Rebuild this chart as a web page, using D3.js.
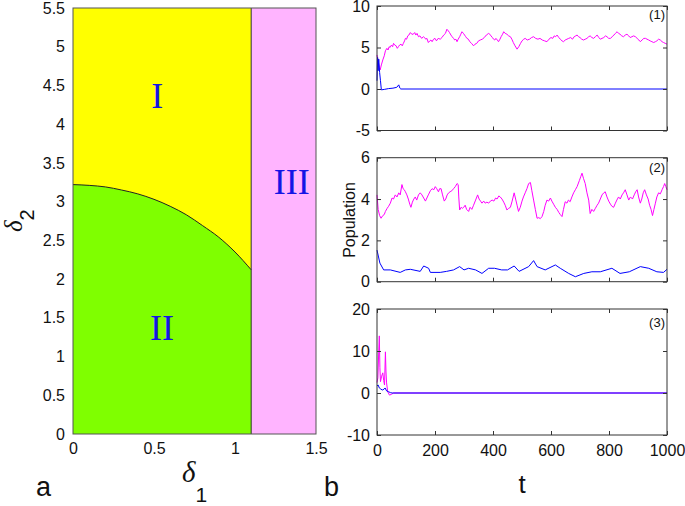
<!DOCTYPE html>
<html><head><meta charset="utf-8">
<script src="https://cdn.jsdelivr.net/npm/d3@7"></script>
<style>
html,body{margin:0;padding:0;background:#fff;}
</style></head>
<body><svg id="c" width="685" height="506"></svg>
<script>
// ---------- Data: panel a (phase diagram) ----------
const delta1Ticks = [0, 0.5, 1, 1.5];
const delta2Ticks = [0, 0.5, 1, 1.5, 2, 2.5, 3, 3.5, 4, 4.5, 5, 5.5];
const delta1Critical = 1.1;
const curveDelta1 = [0, 0.1, 0.2, 0.3, 0.4, 0.5, 0.6, 0.7, 0.8, 0.9, 1.0, 1.1];
const curveDelta2 = [3.22, 3.21, 3.19, 3.15, 3.10, 3.03, 2.94, 2.83, 2.69, 2.54, 2.35, 2.12];
const regionNames = ["I", "II", "III"];

// ---------- Data: panel b (time series) ----------
const timeTicks = [0, 200, 400, 600, 800, 1000];
const p1Ticks = [-5, 0, 5, 10];
const p2Ticks = [0, 2, 4, 6];
const p3Ticks = [-10, 0, 10, 20];
const panelNames = ["(1)", "(2)", "(3)"];

const p1MagT = [0,3,5,8,11,15,20,25,29,34,38,42,45,50,54,57,61,66,70,74,78,83,87,91,95,98,102,106,110,115,120,125,130,134,138,143,148,154,160,164,168,172,177,182,186,190,195,200,205,211,218,224,230,236,241,246,250,255,259,264,268,272,276,280,285,289,293,298,302,306,310,315,320,326,333,338,344,350,356,363,370,377,385,389,393,398,402,406,410,415,419,424,428,433,437,442,448,454,460,465,470,476,483,489,495,500,506,511,518,526,533,540,547,555,562,570,578,586,593,600,606,611,616,621,627,632,638,643,649,655,661,668,674,680,685,690,695,700,706,712,718,724,730,735,741,747,753,759,765,770,776,782,788,793,799,805,811,817,822,828,833,838,844,850,856,862,868,873,879,885,891,897,903,908,914,920,926,931,937,942,948,954,960,965,971,977,983,988,994,1000];
const p1MagV = [4.1,3.6,3.2,2.6,2.3,2.9,3.5,4.0,4.6,4.9,4.7,5.1,5.0,5.3,5.1,5.5,5.3,5.2,4.9,5.1,5.3,5.4,5.2,5.5,5.8,6.1,6.0,6.4,6.5,6.8,6.6,6.6,6.8,6.5,6.7,6.3,6.4,6.1,6.3,6.2,6.0,6.1,5.6,5.8,5.9,5.7,6.0,6.1,5.8,6.1,6.0,6.2,6.5,6.7,7.2,7.0,6.8,6.5,6.3,6.1,5.9,6.0,5.7,6.0,6.3,6.6,6.9,6.7,6.5,6.3,6.1,6.0,5.7,5.5,5.2,5.4,5.5,5.8,5.9,6.0,6.2,6.5,6.7,6.6,6.4,6.2,6.0,5.9,6.1,5.9,5.7,6.0,6.3,6.6,6.9,6.7,6.6,6.4,6.3,6.0,5.6,5.2,4.8,5.1,5.5,5.8,6.0,6.1,5.9,6.0,6.2,6.3,6.1,6.0,6.1,5.9,5.8,5.7,6.0,6.2,6.1,6.4,6.3,6.5,6.2,6.0,5.8,5.7,5.9,6.0,6.1,6.2,6.0,6.3,6.4,6.5,6.3,6.2,6.0,5.9,6.0,6.1,6.3,6.4,6.2,6.1,6.3,6.5,6.2,6.0,6.1,6.2,6.4,6.3,6.1,6.1,6.3,6.5,6.7,6.9,6.7,6.6,6.4,6.3,6.5,6.6,6.4,6.2,6.3,6.4,6.3,6.1,5.9,5.7,5.9,6.1,6.1,6.0,5.9,5.8,5.7,5.6,5.7,5.8,6.0,5.9,5.7,5.6,5.5,5.4];
const p1BluT = [0,2,4,6,9,12,15,25,40,55,68,75,79,82,1000];
const p1BluV = [1.0,3.8,2.2,3.6,2.0,1.0,-0.1,-0.05,0.05,0.1,0.2,0.5,0.1,0,0];

const p2MagT = [0,4,9,14,20,25,29,35,40,46,52,57,63,69,75,80,86,90,94,98,103,108,113,117,122,127,132,137,143,149,155,161,167,172,177,184,190,196,201,206,212,216,221,226,232,237,242,247,252,258,264,270,276,280,282,285,290,295,299,304,309,316,321,327,333,340,347,352,357,362,368,373,379,385,391,397,403,409,414,420,425,431,437,442,448,454,460,466,473,478,483,488,494,500,505,511,517,523,529,534,540,546,552,558,563,569,575,580,586,592,598,603,609,615,621,627,632,638,643,649,655,660,666,672,678,684,690,698,703,707,712,718,724,730,735,741,747,753,759,764,770,776,782,787,793,799,805,810,816,822,827,833,839,845,850,856,862,868,874,881,887,892,897,902,908,913,918,923,929,935,940,945,950,955,960,965,971,977,983,988,992,996,1000];
const p2MagV = [4.2,3.5,3.2,3.07,3.2,3.25,3.4,3.55,3.65,3.8,4.05,4.0,4.2,4.1,4.3,4.2,4.7,4.5,4.45,4.35,4.2,4.0,3.75,3.6,3.85,4.0,4.1,3.95,4.2,4.3,4.2,4.05,3.9,4.05,4.2,4.4,4.5,4.45,4.6,4.5,4.35,4.5,4.5,4.2,3.9,4.0,4.2,4.3,4.35,4.4,4.5,4.6,4.75,4.7,4.1,3.47,3.6,3.55,3.6,3.7,3.5,3.4,3.6,3.5,3.7,3.95,4.2,4.0,3.9,3.8,3.9,3.8,3.85,3.8,3.9,3.95,3.9,4.05,4.0,4.15,4.1,4.0,3.85,3.7,3.47,3.55,3.6,3.9,4.3,4.0,3.7,3.4,3.6,3.9,4.1,4.3,4.5,4.75,4.8,4.4,3.95,3.5,3.07,3.1,3.05,3.15,3.4,3.7,3.95,3.9,4.05,3.9,3.75,3.6,3.5,3.35,3.25,3.15,3.5,3.87,3.8,3.95,3.87,4.1,4.3,4.45,4.6,4.9,5.1,5.25,5.0,4.75,4.3,3.95,3.3,3.5,3.4,3.55,3.7,3.8,4.0,4.2,4.3,4.35,4.1,3.9,3.75,3.65,3.6,3.8,3.95,4.1,4.0,4.2,4.3,4.45,4.2,3.95,4.1,4.0,4.2,4.35,4.45,4.1,3.8,4.0,4.3,4.45,4.2,4.0,3.7,3.5,3.2,3.5,3.8,4.1,4.3,4.25,4.45,4.6,4.75,4.6,4.45];
const p2BluT = [0,10,23,46,80,98,115,149,161,178,184,218,240,264,285,300,316,340,362,385,405,430,450,473,490,523,540,552,580,615,632,661,684,713,741,770,810,838,870,908,937,965,988,1000];
const p2BluV = [1.53,0.9,0.57,0.57,0.45,0.57,0.6,0.5,0.76,0.65,0.45,0.45,0.5,0.57,0.73,0.57,0.65,0.57,0.4,0.65,0.65,0.57,0.57,0.76,0.5,0.73,1.02,0.73,0.57,0.81,0.65,0.4,0.24,0.4,0.48,0.48,0.65,0.4,0.48,0.73,0.65,0.48,0.45,0.6];

const p3MagT = [0,3,6,8,10,12,16,20,23,26,29,31,33,37,43,50,57,1000];
const p3MagV = [2.5,3.6,10,13.6,6,2.7,4,4.8,3,1.9,9.8,5,2.4,0.3,-0.5,-0.3,0,0];
const p3BluT = [0,4,8,12,18,24,28,33,40,46,52,1000];
const p3BluV = [1.7,1.9,1.2,1.0,0.7,0.9,1.2,0.5,0.3,0.1,0,0];

// ---------- Drawing ----------
const svg = d3.select("#c");
const font = '"Liberation Sans",Arial,sans-serif';
const serif = '"Liberation Serif","Times New Roman",serif';
const fmt = d => String(d);

// Panel a
const ax = d3.scaleLinear().domain([0, 1.5]).range([73, 316]);
const ay = d3.scaleLinear().domain([0, 5.5]).range([434, 8]);
const ga = svg.append("g");
ga.append("rect").attr("x", ax(0)).attr("y", ay(5.5)).attr("width", ax(delta1Critical) - ax(0)).attr("height", ay(0) - ay(5.5)).attr("fill", "#ffff00");
ga.append("rect").attr("x", ax(delta1Critical)).attr("y", ay(5.5)).attr("width", ax(1.5) - ax(delta1Critical)).attr("height", ay(0) - ay(5.5)).attr("fill", "#ffb4ff");
const curve = curveDelta1.map((d, i) => [d, curveDelta2[i]]);
ga.append("path").datum(curve)
  .attr("d", d3.area().x(d => ax(d[0])).y0(ay(0)).y1(d => ay(d[1])).curve(d3.curveMonotoneX))
  .attr("fill", "#7fff00");
ga.append("path").datum(curve)
  .attr("d", d3.line().x(d => ax(d[0])).y(d => ay(d[1])).curve(d3.curveMonotoneX))
  .attr("fill", "none").attr("stroke", "#222").attr("stroke-width", 1);
ga.append("line").attr("x1", ax(delta1Critical)).attr("x2", ax(delta1Critical)).attr("y1", ay(0)).attr("y2", ay(5.5)).attr("stroke", "#333").attr("stroke-width", 1);
ga.append("rect").attr("x", ax(0)).attr("y", ay(5.5)).attr("width", ax(1.5) - ax(0)).attr("height", ay(0) - ay(5.5)).attr("fill", "none").attr("stroke", "#555").attr("stroke-width", 1);

const axA = ga.append("g").attr("transform", `translate(0,${ay(0)})`)
  .call(d3.axisBottom(ax).tickValues(delta1Ticks).tickSize(0).tickPadding(9).tickFormat(fmt));
const ayA = ga.append("g").attr("transform", `translate(${ax(0)},0)`)
  .call(d3.axisLeft(ay).tickValues(delta2Ticks).tickSize(0).tickPadding(8).tickFormat(fmt));
[axA, ayA].forEach(g => { g.select(".domain").remove(); g.attr("font-size", null).attr("font-family", null); g.selectAll("text").attr("font-size", 16).attr("font-family", font).attr("fill", "#111"); });

// region labels
const regPos = [[0.52, 4.21], [0.55, 1.21], [1.35, 3.1]];
regionNames.forEach((n, i) => {
  ga.append("text").attr("x", ax(regPos[i][0])).attr("y", ay(regPos[i][1])).attr("text-anchor", "middle")
    .attr("font-family", serif).attr("font-size", 36).attr("fill", "#1414e6").text(n);
});

// delta labels
const d1 = svg.append("text").attr("x", 182).attr("y", 482).attr("font-size", 29).attr("font-family", serif).attr("font-style", "italic").attr("fill", "#111");
d1.append("tspan").text("δ");
d1.append("tspan").attr("font-family", font).attr("font-style", "normal").attr("font-size", 21).attr("dy", 20).text("1");
const d2 = svg.append("text").attr("transform", "translate(22,232) rotate(-90)").attr("font-size", 25).attr("font-family", serif).attr("font-style", "italic").attr("fill", "#111");
d2.append("tspan").text("δ");
d2.append("tspan").attr("font-family", font).attr("font-style", "normal").attr("font-size", 20).attr("dy", 12).text("2");

svg.append("text").attr("x", 36).attr("y", 496).attr("font-size", 27).attr("font-family", font).attr("fill", "#111").text("a");
svg.append("text").attr("x", 324).attr("y", 496).attr("font-size", 27).attr("font-family", font).attr("fill", "#111").text("b");

// Panel b
const tx = d3.scaleLinear().domain([0, 1000]).range([377, 667]);
const panels = [
  {dom: [-5, 10], rng: [130.5, 6], ticks: p1Ticks, mag: [p1MagT, p1MagV], blu: [p1BluT, p1BluV], lab: panelNames[0], labY: 19},
  {dom: [0, 6], rng: [281.7, 157.7], ticks: p2Ticks, mag: [p2MagT, p2MagV], blu: [p2BluT, p2BluV], lab: panelNames[1], labY: 172},
  {dom: [-10, 20], rng: [435, 309], ticks: p3Ticks, mag: [p3MagT, p3MagV], blu: [p3BluT, p3BluV], lab: panelNames[2], labY: 327}
];
panels.forEach((p, k) => {
  const y = d3.scaleLinear().domain(p.dom).range(p.rng);
  const g = svg.append("g");
  const line = d3.line().x(d => tx(d[0])).y(d => y(d[1]));
  const mag = p.mag[0].map((t, i) => [t, p.mag[1][i]]);
  const blu = p.blu[0].map((t, i) => [t, p.blu[1][i]]);
  g.append("path").datum(mag).attr("d", line).attr("fill", "none").attr("stroke", "#ff00ff").attr("stroke-width", 1);
  g.append("path").datum(blu).attr("d", line).attr("fill", "none").attr("stroke", "#0000ff").attr("stroke-width", 1);
  g.append("rect").attr("x", tx(0)).attr("y", y(p.dom[1])).attr("width", tx(1000) - tx(0)).attr("height", y(p.dom[0]) - y(p.dom[1]))
    .attr("fill", "none").attr("stroke", "#333").attr("stroke-width", 1);
  const yl = g.append("g").attr("transform", `translate(${tx(0)},0)`)
    .call(d3.axisLeft(y).tickValues(p.ticks).tickSize(-4).tickPadding(7).tickFormat(fmt));
  const yr = g.append("g").attr("transform", `translate(${tx(1000)},0)`)
    .call(d3.axisRight(y).tickValues(p.ticks).tickSize(-4).tickFormat(""));
  const xb = g.append("g").attr("transform", `translate(0,${y(p.dom[0])})`)
    .call(d3.axisBottom(tx).tickValues(timeTicks).tickSize(-4).tickPadding(10).tickFormat(k === 2 ? fmt : ""));
  const xt = g.append("g").attr("transform", `translate(0,${y(p.dom[1])})`)
    .call(d3.axisTop(tx).tickValues(timeTicks).tickSize(-4).tickFormat(""));
  [yl, yr, xb, xt].forEach(a => {
    a.select(".domain").remove();
    a.selectAll("line").attr("stroke", "#333");
    a.selectAll("text").attr("font-size", 16).attr("font-family", font).attr("fill", "#111");
  });
  g.append("text").attr("x", 665).attr("y", p.labY).attr("text-anchor", "end").attr("font-size", 13).attr("font-family", font).attr("fill", "#111").text(p.lab);
});

svg.append("text").attr("transform", "translate(355,220) rotate(-90)").attr("text-anchor", "middle").attr("font-size", 16).attr("font-family", font).attr("fill", "#111").text("Population");
svg.append("text").attr("x", 522).attr("y", 493).attr("text-anchor", "middle").attr("font-size", 26).attr("font-family", font).attr("fill", "#111").text("t");
</script></body></html>
